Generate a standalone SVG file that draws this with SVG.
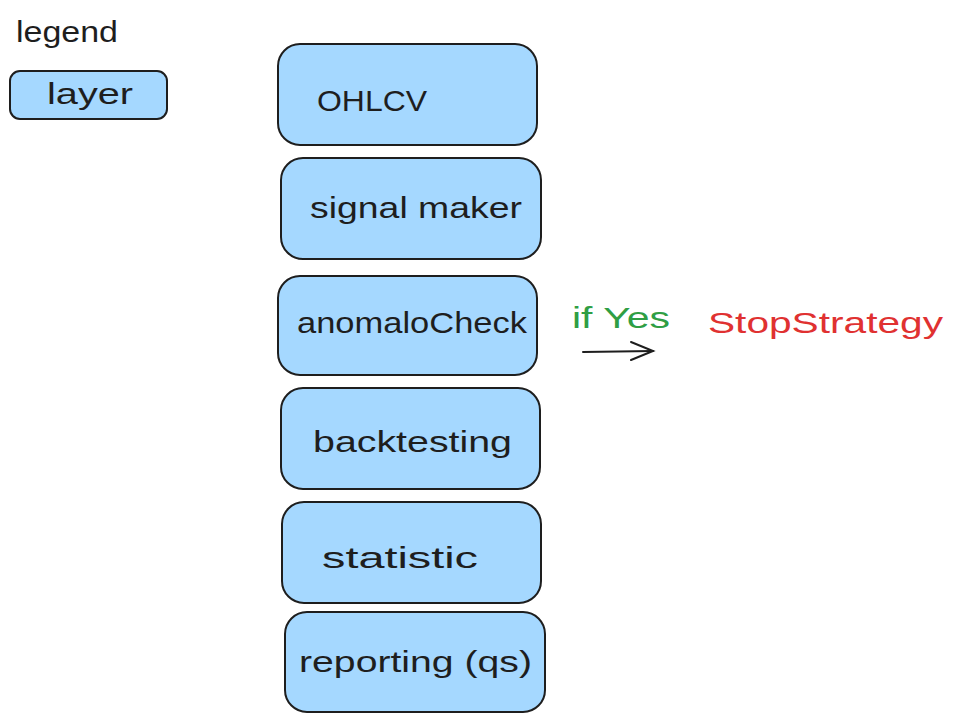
<svg xmlns="http://www.w3.org/2000/svg" width="953" height="722" viewBox="0 0 953 722">
<defs>
<style>
.box{fill:#a5d8ff;stroke:#1e1e1e;stroke-width:2}
.t{font-family:"Liberation Sans",Arial,sans-serif;font-size:30px;fill:#1e1e1e}
.g{fill:#2f9e44}
.r{fill:#e03131}
.c{stroke:#1e1e1e;stroke-width:2;fill:none;stroke-linecap:round}
</style>
</defs>
<rect width="953" height="722" fill="#ffffff"/>
<g id="legend-title"><text class="t" x="16" y="42" textLength="102" lengthAdjust="spacingAndGlyphs">legend</text></g>
<g id="legend-layer"><rect class="box" x="10" y="71" width="157" height="48" rx="10"/><text class="t" x="47" y="104" textLength="86" lengthAdjust="spacingAndGlyphs">layer</text></g>
<g id="ohlcv"><rect class="box" x="278" y="44" width="259" height="101" rx="22"/><text class="t" x="317" y="111" textLength="110" lengthAdjust="spacingAndGlyphs">OHLCV</text></g>
<g id="signal-maker"><rect class="box" x="281" y="158" width="260" height="101" rx="22"/><text class="t" x="310" y="218" textLength="212" lengthAdjust="spacingAndGlyphs">signal maker</text></g>
<g id="anomalocheck"><rect class="box" x="278" y="276" width="259" height="99" rx="22"/><text class="t" x="297" y="333" textLength="230" lengthAdjust="spacingAndGlyphs">anomaloCheck</text></g>
<g id="backtesting"><rect class="box" x="281" y="388" width="259" height="101" rx="22"/><text class="t" x="313" y="452" textLength="199" lengthAdjust="spacingAndGlyphs">backtesting</text></g>
<g id="statistic"><rect class="box" x="282" y="502" width="259" height="101" rx="22"/><text class="t" x="322" y="568" textLength="156" lengthAdjust="spacingAndGlyphs">statistic</text></g>
<g id="reporting"><rect class="box" x="285" y="612" width="260" height="100" rx="22"/><text class="t" x="299" y="672" textLength="233" lengthAdjust="spacingAndGlyphs">reporting (qs)</text></g>
<g id="if-yes"><text class="t g" x="572" y="328" textLength="98" lengthAdjust="spacingAndGlyphs">if Yes</text></g>
<g id="stop-strategy"><text class="t r" x="708" y="333" textLength="235" lengthAdjust="spacingAndGlyphs">StopStrategy</text></g>
<g id="connectors">
<path class="c" d="M583 352 L653 351"/>
<path class="c" d="M631 342 L653 351 L631 360"/>
</g>
</svg>
